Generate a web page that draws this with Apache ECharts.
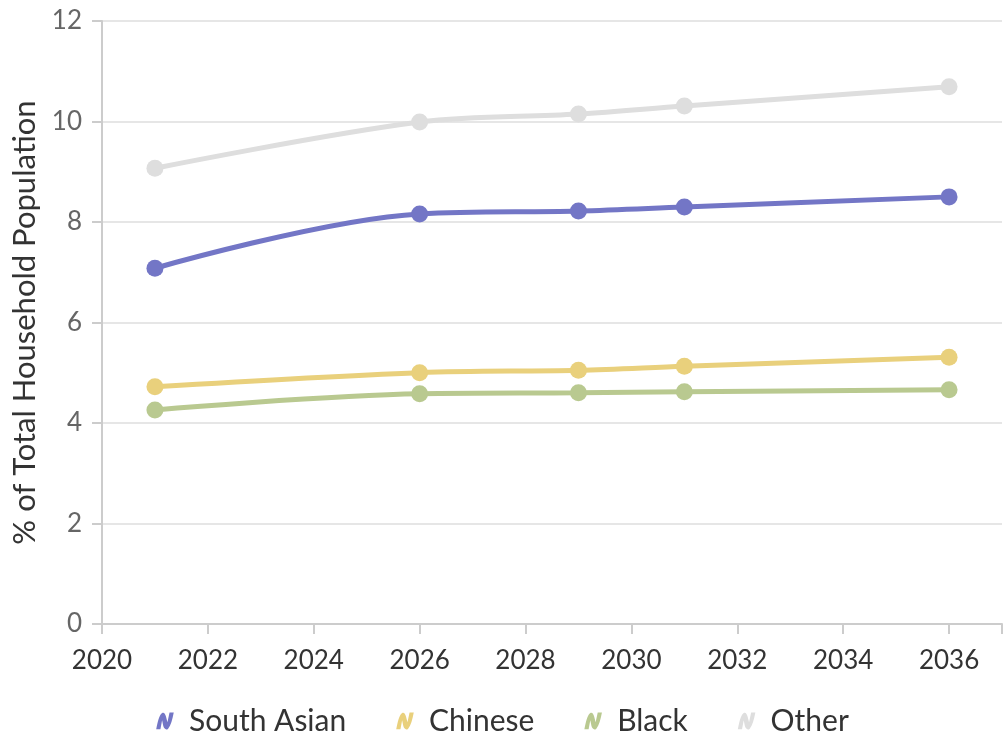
<!DOCTYPE html>
<html>
<head>
<meta charset="utf-8">
<script src="https://cdn.jsdelivr.net/npm/echarts@6/dist/echarts.min.js"></script>
<style>
  html, body { margin: 0; padding: 0; background: #fff; }
  #chart { width: 1005px; height: 743px; }
</style>
</head>
<body>
<div id="chart"></div>
<script>
// Survey years and share of total household population (%) by group
const years = [2021, 2026, 2029, 2031, 2036];
const southAsian = [7.08, 8.16, 8.22, 8.30, 8.50];
const chinese = [4.72, 5.00, 5.05, 5.13, 5.31];
const black = [4.26, 4.58, 4.60, 4.62, 4.66];
const other = [9.07, 9.99, 10.15, 10.31, 10.69];

const seriesNames = ['South Asian', 'Chinese', 'Black', 'Other'];
const seriesValues = [southAsian, chinese, black, other];
const colors = ['#7376c6', '#e9d07c', '#b9c990', '#dedede'];

// Small squiggle used as legend marker
const squiggle = 'path://M0,13 C1,8 2,3 4,1.5 C5.5,0.5 6.5,2 7,4 L8,8 L9.5,1 L12.5,1 C11.5,6 10.5,10 8.5,12.5 C7,14 5.5,12.5 5,10.5 L4.2,6.5 L3,13 Z';

const chart = echarts.init(document.getElementById('chart'));
chart.setOption({
  animation: false,
  textStyle: { fontFamily: 'Lato' },
  grid: { left: 102, right: 0, top: 21, bottom: 119 },
  legend: {
    bottom: 2,
    left: 'center',
    itemWidth: 22,
    itemHeight: 17,
    itemGap: 50,
    icon: squiggle,
    textStyle: { fontSize: 30, color: '#333', fontFamily: 'Lato', padding: [0, 0, 0, 8] },
    data: seriesNames
  },
  xAxis: {
    type: 'value',
    min: 2020,
    max: 2037,
    interval: 2,
    axisLine: { show: true, lineStyle: { color: '#ccc', width: 2 } },
    axisTick: { show: true, length: 10, lineStyle: { color: '#ccc', width: 2 } },
    splitLine: { show: false },
    axisLabel: {
      fontSize: 26, color: '#333', margin: 24,
      formatter: v => (v > 2036 ? '' : String(v))
    }
  },
  yAxis: {
    type: 'value',
    min: 0,
    max: 12,
    interval: 2,
    name: '% of Total Household Population',
    nameLocation: 'middle',
    nameGap: 60,
    nameTextStyle: { fontSize: 31, color: '#333', fontFamily: 'Lato' },
    axisLine: { show: true, lineStyle: { color: '#ccc', width: 2 } },
    axisTick: { show: true, length: 10, lineStyle: { color: '#ccc', width: 2 } },
    splitLine: { show: true, lineStyle: { color: '#e6e6e6', width: 2 } },
    axisLabel: { fontSize: 26, color: '#666', margin: 20 }
  },
  series: seriesNames.map((name, i) => ({
    name: name,
    type: 'line',
    smooth: 0.35,
    data: years.map((y, j) => [y, seriesValues[i][j]]),
    symbol: 'circle',
    symbolSize: 17,
    z: 10 - i,
    lineStyle: { width: 5, color: colors[i] },
    itemStyle: { color: colors[i] }
  }))
});
</script>
</body>
</html>
